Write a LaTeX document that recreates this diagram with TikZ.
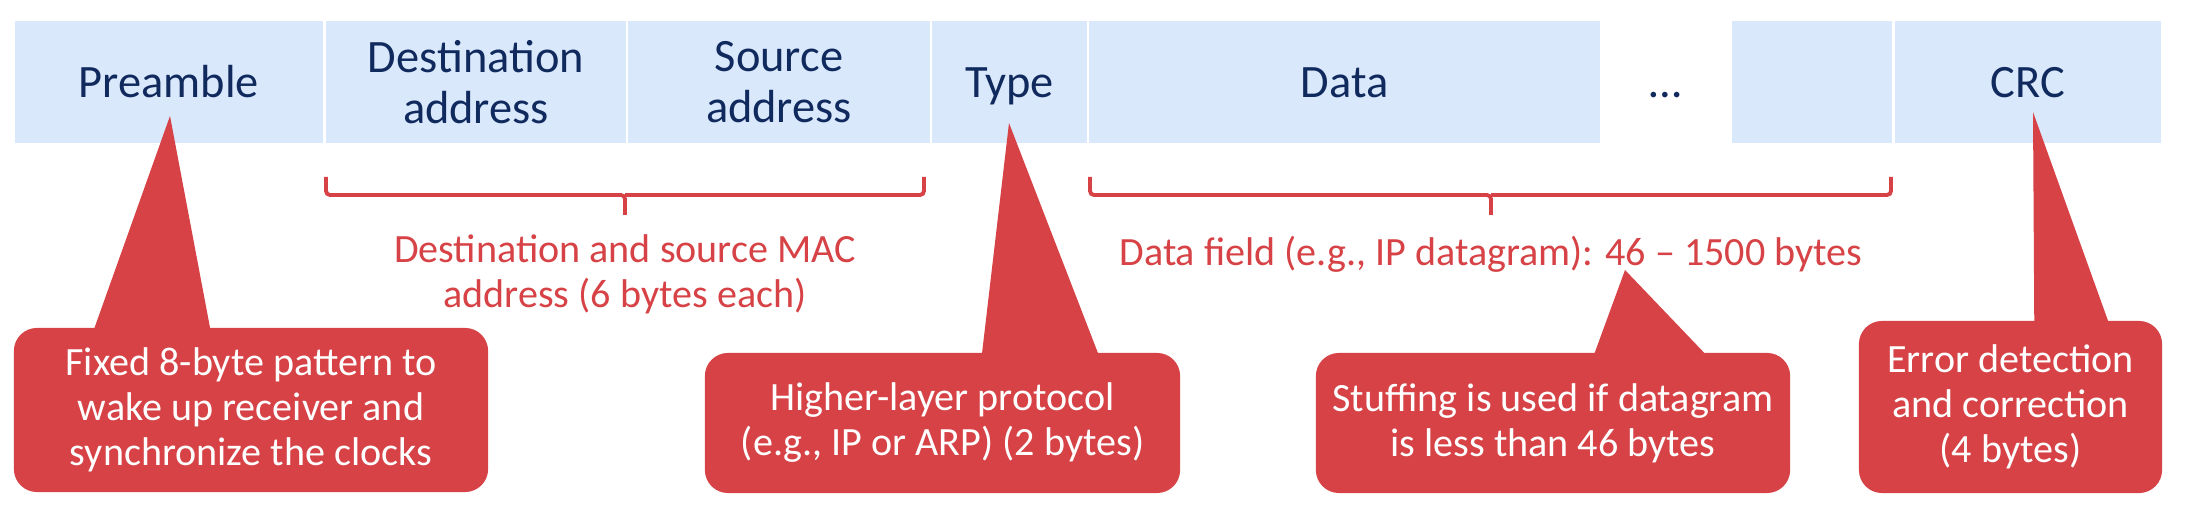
\documentclass[tikz,border=0pt]{standalone}
\usepackage{fontspec}
\setmainfont{Carlito}
\usepackage{xcolor}
\usepackage{tikz}
\definecolor{fieldblue}{RGB}{218,232,252}
\definecolor{navy}{RGB}{16,42,94}
\definecolor{callred}{RGB}{214,66,69}

\begin{document}
\begin{tikzpicture}[x=0.01cm, y=-0.01cm,
	field/.style = {fill=fieldblue, minimum height=1.22cm, inner sep=0, text=navy, align=center, font=\fontsize{13.2}{14.5}\selectfont},
	one/.style = {text height=0.42cm, text depth=0.10cm},
	callout/.style = {fill=callred, rounded corners=0.23cm, inner sep=0, text=white, align=center, font=\fontsize{11.4}{12.8}\selectfont},
	note/.style = {text=callred, align=center, font=\fontsize{11.4}{12.8}\selectfont},
	brace/.style = {draw=callred, line width=1.1pt, rounded corners=0.04cm}]
	\useasboundingbox (0,0) rectangle (2202,516);
	% frame fields
	\node[field, one, minimum width=3.08cm] (pre) at (169,82) {Preamble};
	\node[field, minimum width=3.00cm] (dst) at (476,82) {Destination\\address};
	\node[field, minimum width=3.02cm] (src) at (779,82) {Source\\address};
	\node[field, one, minimum width=1.55cm] (typ) at (1009.5,82) {Type};
	\node[field, one, minimum width=5.11cm] (dat) at (1344.5,82) {Data};
	\node[anchor=base, text=navy, font=\fontsize{13.2}{14.5}\selectfont] (dots) at (1666,98) {…};
	\node[field, minimum width=1.60cm] (pad) at (1812,82) {};
	\node[field, one, minimum width=2.66cm] (crc) at (2028,82) {CRC};
	% braces
	\coordinate (b1l) at (326,177);
	\coordinate (b1m) at (625,195);
	\coordinate (b1r) at (924,177);
	\coordinate (b1t) at (625,215);
	\draw[brace] (b1l) |- (b1m) -- (b1t);
	\draw[brace] (b1r) |- (b1m);
	\coordinate (b2l) at (1090,177);
	\coordinate (b2m) at (1491,195);
	\coordinate (b2r) at (1891,177);
	\coordinate (b2t) at (1491,215);
	\draw[brace] (b2l) |- (b2m) -- (b2t);
	\draw[brace] (b2r) |- (b2m);
	\node[note] (n1) at (625,274) {Destination and source MAC\\address (6 bytes each)};
	\node[note] (n2) at (1491,254) {Data field (e.g., IP datagram): 46 – 1500 bytes};
	% callouts
	\node[callout, minimum width=4.74cm, minimum height=1.64cm] (c1) at (251,410) {Fixed 8-byte pattern to\\wake up receiver and\\synchronize the clocks};
	\node[callout, minimum width=4.75cm, minimum height=1.40cm] (c2) at (942.5,423) {Higher-layer protocol\\(e.g., IP or ARP) (2 bytes)};
	\node[callout, minimum width=4.74cm, minimum height=1.40cm] (c3) at (1553,423) {Stuffing is used if datagram\\is less than 46 bytes};
	\node[callout, minimum width=3.03cm, minimum height=1.72cm] (c4) at (2010.5,407) {Error detection\\and correction\\(4 bytes)};
	\coordinate (t1) at (170,116);
	\coordinate (t2) at (1009,123);
	\coordinate (t3) at (1625,270);
	\coordinate (t4) at (2033,112);
	\fill[callred] ([xshift=0.79cm, yshift=-2pt]c1.north west) -- (t1) -- ([xshift=1.98cm, yshift=-2pt]c1.north west) -- cycle;
	\fill[callred] ([xshift=2.77cm, yshift=-2pt]c2.north west) -- (t2) -- ([xshift=3.96cm, yshift=-2pt]c2.north west) -- cycle;
	\fill[callred] ([xshift=2.77cm, yshift=-2pt]c3.north west) -- (t3) -- ([xshift=3.95cm, yshift=-2pt]c3.north west) -- cycle;
	\fill[callred] ([xshift=1.76cm, yshift=-2pt]c4.north west) -- (t4) -- ([xshift=2.52cm, yshift=-2pt]c4.north west) -- cycle;
\end{tikzpicture}
\end{document}
